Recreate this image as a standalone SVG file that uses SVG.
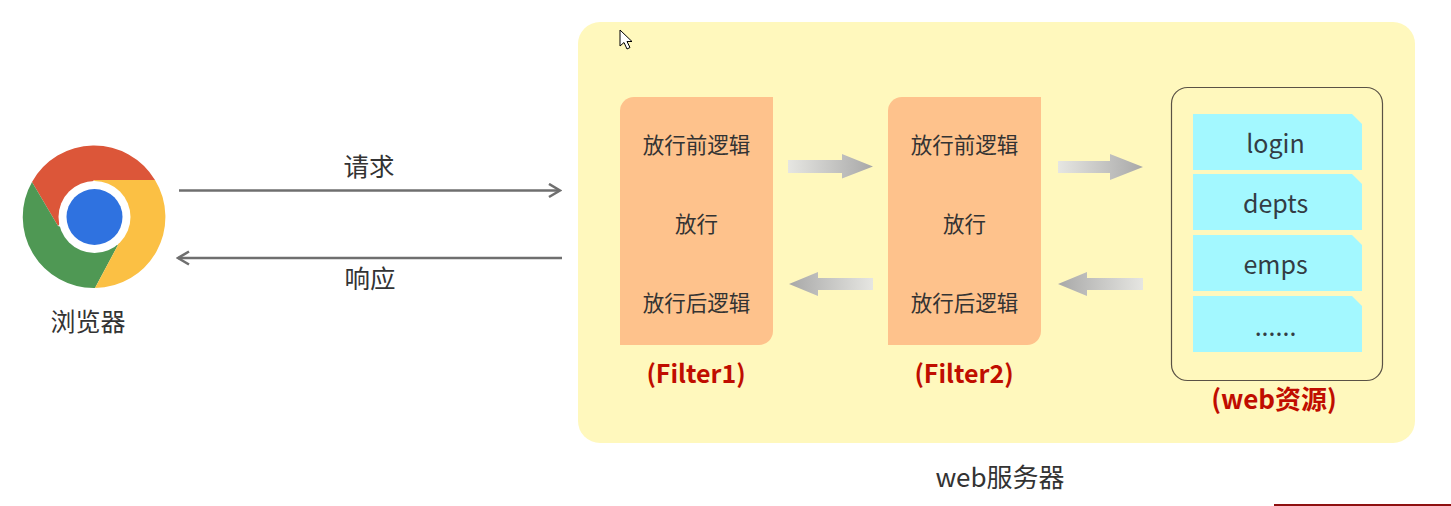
<svg xmlns="http://www.w3.org/2000/svg" width="1451" height="506" viewBox="0 0 1451 506">
<style>
text{font-family:"Noto Sans CJK SC","Noto Sans",sans-serif;text-anchor:middle;fill:#333}
.l{font-size:21.5px}
.t{font-size:25px}
.s{font-size:25.500px}
.r{font-size:25px;fill:#333c44}
.b{font-size:25px;font-weight:700;fill:#c00d00}
.f{fill:#fec28c}
.c{fill:#a3f8ff}
.w{fill:none;stroke:#6f6f6f;stroke-width:2.600}
</style>
<defs>
<linearGradient id="gr"><stop offset="0" stop-color="#e6e6e2"/><stop offset="1" stop-color="#a8a8a8"/></linearGradient>
<linearGradient id="gl"><stop offset="0" stop-color="#a8a8a8"/><stop offset="1" stop-color="#e6e6e2"/></linearGradient>
<marker id="open" viewBox="0 0 16 16" refX="14" refY="8" markerWidth="16" markerHeight="16" markerUnits="userSpaceOnUse" orient="auto"><path d="M3 1.500L14 8L3 14.500" fill="none" stroke="#6f6f6f" stroke-width="2.600"/></marker>
</defs>
<rect width="1451" height="506" fill="#fff"/>
<g id="server">
<rect x="578" y="22" width="837" height="421" rx="22" fill="#fff8bd"/>
<text x="1000" y="487" style="font-size:26px">web服务器</text>
</g>
<g id="browser">
<path d="M32 182A71 71 0 0 1 155 180L94 180L58 226Z" fill="#dc5639"/>
<path d="M32 182L58 226L118 245L95 288A71 71 0 0 1 32 182Z" fill="#4f9854"/>
<path d="M155 180A71 71 0 0 1 95 288L118 245L94 180Z" fill="#fbc044"/>
<circle cx="94.500" cy="217" r="36" fill="#fff"/>
<circle cx="94.500" cy="217" r="28" fill="#2f72e0"/>
<text class="t" x="88" y="331">浏览器</text>
</g>
<g id="connectors">
<path class="w" d="M179 190.500H560" marker-end="url(#open)"/>
<path class="w" d="M562 258H178" marker-end="url(#open)"/>
<path d="M788 160H842V154L873 166.500L842 178.500V173H788Z" fill="url(#gr)"/>
<path d="M873 278H818V272L789 284L818 296V290H873Z" fill="url(#gl)"/>
<path d="M1058 161H1110V154L1143 167L1110 180V173H1058Z" fill="url(#gr)"/>
<path d="M1143 278H1087V272L1058 284L1087 296V290H1143Z" fill="url(#gl)"/>
<text class="s" x="369" y="176">请求</text>
<text class="s" x="370" y="288">响应</text>
</g>
<g id="filter1">
<path class="f" d="M634 97H773V331A14 14 0 0 1 759 345H620V111A14 14 0 0 1 634 97Z"/>
<text class="l" x="696.500" y="153">放行前逻辑</text>
<text class="l" x="696.500" y="232">放行</text>
<text class="l" x="696.500" y="311">放行后逻辑</text>
<text class="b" x="696" y="383">(Filter1)</text>
</g>
<g id="filter2">
<path class="f" d="M902 97H1041V331A14 14 0 0 1 1027 345H888V111A14 14 0 0 1 902 97Z"/>
<text class="l" x="964.500" y="153">放行前逻辑</text>
<text class="l" x="964.500" y="232">放行</text>
<text class="l" x="964.500" y="311">放行后逻辑</text>
<text class="b" x="964" y="383">(Filter2)</text>
</g>
<g id="web-resources">
<rect x="1171.500" y="87.500" width="211" height="293" rx="16" fill="none" stroke="#5a5245" stroke-width="1.200"/>
<path class="c" d="M1193 114H1352L1362 124V170H1193Z"/>
<path class="c" d="M1193 174H1352L1362 184V230H1193Z"/>
<path class="c" d="M1193 235H1352L1362 245V291H1193Z"/>
<path class="c" d="M1193 296H1352L1362 306V352H1193Z"/>
<text class="r" x="1275.500" y="153">login</text>
<text class="r" x="1275.500" y="213">depts</text>
<text class="r" x="1275.500" y="274">emps</text>
<text class="r" x="1275.500" y="336">......</text>
<text class="b" x="1274" y="409" style="font-size:26px">(web资源)</text>
</g>
<path d="M620 30V46L624 42.500L627 49L630 47.500L627 41.500L632 41.500Z" fill="#fff" stroke="#000" stroke-width="1"/>
<rect x="1274" y="504" width="177" height="2" fill="#8e1010"/>
</svg>
